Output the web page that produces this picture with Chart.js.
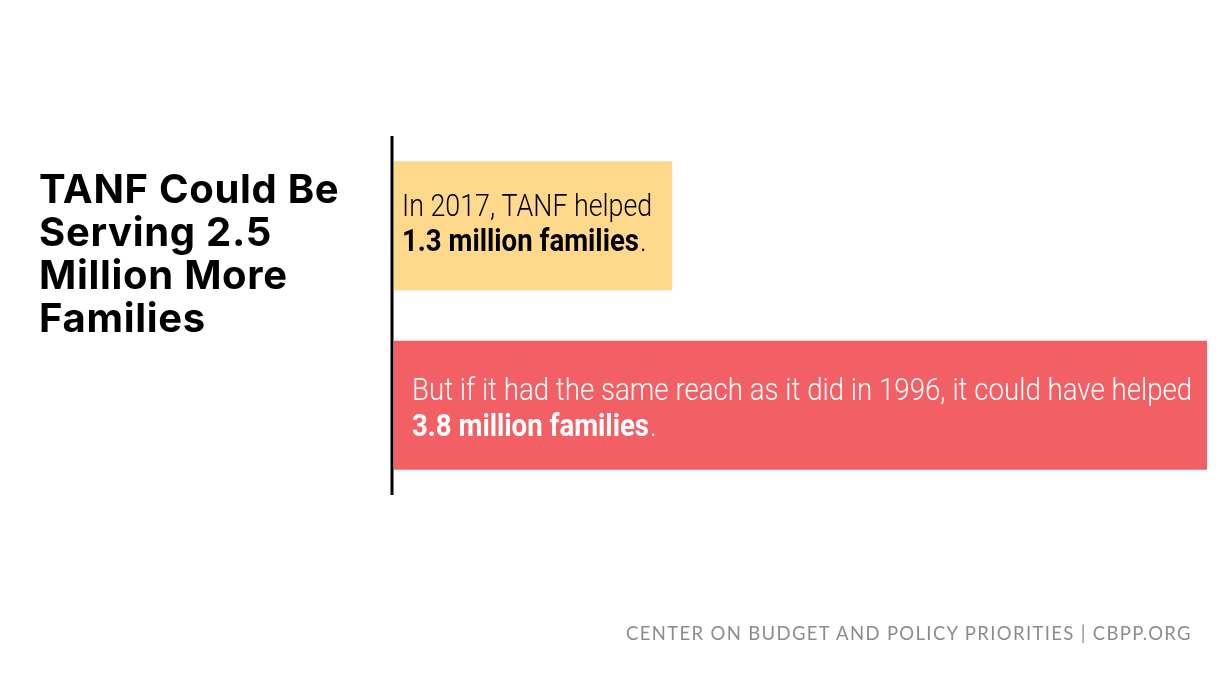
<!DOCTYPE html>
<html>
<head>
<meta charset="utf-8">
<script src="https://cdn.jsdelivr.net/npm/chart.js@4.4.1/dist/chart.umd.min.js"></script>
<style>
    html, body { margin: 0; padding: 0; background: #fff; }
    #wrap { position: relative; width: 1231px; height: 689px; overflow: hidden; }
    #chart { position: absolute; left: 0; top: 0; }
    .title {
        position: absolute; left: 39px; top: 167px;
        font-family: Inter, sans-serif; font-weight: 700;
        font-size: 40px; line-height: 43px; letter-spacing: 0.7px; color: #000;
    }
    .source {
        position: absolute; right: 39px; top: 622px;
        font-family: Lato, sans-serif; font-weight: 400;
        font-size: 18.5px; letter-spacing: 1.35px; color: #8c8c8c;
    }
</style>
</head>
<body>
<div id="wrap">
    <canvas id="chart" width="1231" height="689"></canvas>
    <div class="title">TANF Could Be<br>Serving 2.5<br>Million More<br>Families</div>
    <div class="source">CENTER ON BUDGET AND POLICY PRIORITIES | CBPP.ORG</div>
</div>
<script>
// Données
const categories = ['2017', 'Portée de 1996'];
const families = [1.3, 3.8]; // millions de familles
const introLines = ['In 2017, TANF helped', 'But if it had the same reach as it did in 1996, it could have helped'];
const boldLines = ['1.3 million families', '3.8 million families'];

const barColors = ['#FED98C', '#F26066'];
const textColors = ['#000000', '#ffffff'];

// Texte dans les barres (deux lignes, la seconde en gras)
const barTextPlugin = {
    id: 'barText',
    afterDatasetsDraw(chart) {
        const ctx = chart.ctx;
        const meta = chart.getDatasetMeta(0);
        const padX = [8, 18];
        const offsets = [[-10, 25], [-5, 31]];
        const squeeze = [0.865, 0.892];
        meta.data.forEach((bar, i) => {
            const x = bar.base + padX[i];
            ctx.save();
            ctx.fillStyle = textColors[i];
            ctx.textBaseline = 'alphabetic';
            ctx.textAlign = 'left';
            ctx.translate(x, 0);
            ctx.scale(squeeze[i], 1);
            ctx.font = '300 31px Roboto, sans-serif';
            ctx.fillText(introLines[i], 0, bar.y + offsets[i][0]);
            ctx.restore();

            ctx.save();
            ctx.fillStyle = textColors[i];
            ctx.translate(x, 0);
            ctx.scale(0.89, 1);
            ctx.font = '700 31px Roboto, sans-serif';
            ctx.fillText(boldLines[i], 0, bar.y + offsets[i][1]);
            const w = ctx.measureText(boldLines[i]).width;
            ctx.font = '300 31px Roboto, sans-serif';
            ctx.fillText('.', w + 1, bar.y + offsets[i][1]);
            ctx.restore();
        });
    }
};

// Ligne d'axe verticale
const axisLinePlugin = {
    id: 'axisLine',
    afterDatasetsDraw(chart) {
        const { ctx, chartArea } = chart;
        ctx.save();
        ctx.strokeStyle = '#000';
        ctx.lineWidth = 3;
        ctx.beginPath();
        ctx.moveTo(chartArea.left - 2, chartArea.top);
        ctx.lineTo(chartArea.left - 2, chartArea.bottom);
        ctx.stroke();
        ctx.restore();
    }
};

const chart = new Chart(document.getElementById('chart'), {
    type: 'bar',
    data: {
        labels: categories,
        datasets: [{
            data: families,
            backgroundColor: barColors,
            borderWidth: 0,
            categoryPercentage: 1,
            barPercentage: 0.72
        }]
    },
    options: {
        indexAxis: 'y',
        responsive: false,
        animation: false,
        layout: {
            padding: { left: 394, right: 24, top: 136, bottom: 194 }
        },
        scales: {
            x: { display: false, min: 0, max: 3.8 },
            y: { display: false }
        },
        plugins: {
            legend: { display: false },
            tooltip: { enabled: false }
        }
    },
    plugins: [barTextPlugin, axisLinePlugin]
});
</script>
</body>
</html>
